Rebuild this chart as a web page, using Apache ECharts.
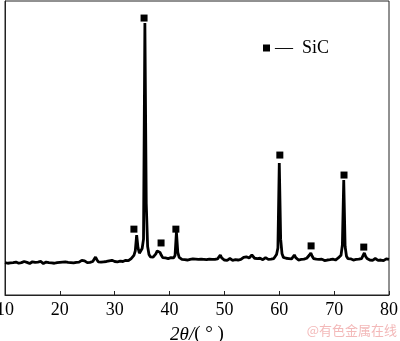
<!DOCTYPE html>
<html>
<head>
<meta charset="utf-8">
<script src="https://cdn.jsdelivr.net/npm/echarts@6/dist/echarts.min.js"></script>
<style>
	html, body { margin: 0; padding: 0; background: #fff; }
	#chart { width: 400px; height: 341px; }
</style>
</head>
<body>
<div id="chart"></div>
<script>
// XRD 图谱数据：2θ 从 10° 到 80°，步长 0.25°
var startAngle = 10;
var stepAngle = 0.25;
var intensity = [
	// 10 - 19.75
	110,113,108,112,109,114,110,107,112,111,108,113,110,109,114,108,111,112,107,110,
	113,109,111,108,112,110,114,109,107,111,112,108,110,113,109,111,108,112,110,109,
	// 20 - 29.75
	111,108,112,110,113,109,111,114,
	110,112,109,113,111,115,112,110,
	118,122,116,112,110,113,111,115,
	114,118,129,120,113,116,112,115,
	113,117,114,112,116,113,118,115,
	// 30 - 39.75
	114,117,113,116,115,118,114,117,
	118,121,117,122,124,128,135,150,
	204,160,142,148,158,190,925,310,
	165,138,130,127,129,133,140,150,
	152,145,135,127,124,126,128,124,
	// 40 - 49.75
	125,127,123,126,135,214,145,128,
	124,121,123,120,122,119,123,121,
	120,123,119,122,125,121,118,122,
	119,121,117,120,118,122,119,121,
	118,121,119,123,128,136,126,121,
	// 50 - 59.75
	119,122,118,121,124,120,118,122,
	120,123,119,122,121,124,128,125,
	130,133,126,129,136,130,125,122,
	124,121,125,122,120,124,127,123,
	121,125,122,128,124,130,138,160,
	// 60 - 69.75
	449,190,140,128,122,125,121,124,
	120,123,126,136,127,122,119,123,
	121,118,122,120,125,130,136,143,
	132,124,120,122,119,121,118,122,
	120,117,121,119,123,120,118,122,
	// 70 - 79.75
	121,119,123,126,128,135,170,391,
	165,132,124,121,123,120,119,122,
	121,118,122,120,124,128,143,131,
	124,121,119,122,118,121,124,120,
	118,122,119,121,117,120,123,119,
	// 80
	121
];

// SiC 标记位置
var markAngles = [33.5, 35.35, 38.45, 41.15, 60.1, 65.8, 71.8, 75.4];
var markHeights = [224, 942, 177, 224, 476, 167, 408, 163];

var xTicks = [10, 20, 30, 40, 50, 60, 70, 80];

function buildLine() {
	var out = [];
	for (var i = 0; i < intensity.length; i++) {
		out.push([startAngle + i * stepAngle, intensity[i]]);
	}
	return out;
}

function buildMarks() {
	var out = [];
	for (var i = 0; i < markAngles.length; i++) {
		out.push([markAngles[i], markHeights[i]]);
	}
	return out;
}

var myChart = echarts.init(document.getElementById('chart'));

var option = {
	animation: false,
	backgroundColor: '#fff',
	grid: {
		left: 5,
		right: 11,
		top: 1,
		bottom: 46,
		outerBoundsMode: 'none',
		containLabel: false,
		show: true,
		borderColor: '#222',
		borderWidth: 1
	},
	legend: {
		data: ['SiC'],
		left: 258,
		top: 34,
		icon: 'rect',
		itemWidth: 7,
		itemHeight: 7,
		formatter: '—  SiC',
		itemStyle: { opacity: 1, color: '#000' },
		textStyle: {
			fontFamily: 'Liberation Serif',
			fontSize: 18,
			color: '#000'
		}
	},
	xAxis: {
		type: 'value',
		min: 10,
		max: 80,
		interval: 10,
		name: '{i|2θ/}{n|( ° )}',
		nameLocation: 'middle',
		nameGap: 30,
		nameTextStyle: {
			rich: {
				i: { fontFamily: 'Liberation Serif', fontSize: 19, fontStyle: 'italic', color: '#000' },
				n: { fontFamily: 'Liberation Serif', fontSize: 19, color: '#000' }
			}
		},
		axisLine: { lineStyle: { color: '#222', width: 1 } },
		axisTick: { inside: true, length: 4, lineStyle: { color: '#222' } },
		splitLine: { show: false },
		axisLabel: {
			margin: 6,
			fontFamily: 'Liberation Serif',
			fontSize: 18,
			color: '#000',
			formatter: function (v) { return xTicks.indexOf(v) >= 0 ? String(v) : ''; }
		}
	},
	yAxis: {
		type: 'value',
		min: 0,
		max: 1000,
		axisLine: { show: true, lineStyle: { color: '#222' } },
		axisTick: { show: false },
		axisLabel: { show: false },
		splitLine: { show: false }
	},
	series: [
		{
			name: 'XRD',
			type: 'line',
			data: buildLine(),
			showSymbol: false,
			symbol: 'none',
			lineStyle: { color: '#000', width: 2.8 },
			z: 2
		},
		{
			name: 'SiC',
			type: 'scatter',
			data: buildMarks(),
			symbol: 'rect',
			symbolSize: 7,
			itemStyle: { color: '#000', opacity: 1 },
			z: 3
		}
	],
	graphic: [
		{
			type: 'text',
			right: 3,
			top: 324,
			style: {
				text: '@有色金属在线',
				font: '13px "Noto Sans CJK SC"',
				fill: '#f3b9b9'
			}
		}
	]
};

myChart.setOption(option);
</script>
</body>
</html>
